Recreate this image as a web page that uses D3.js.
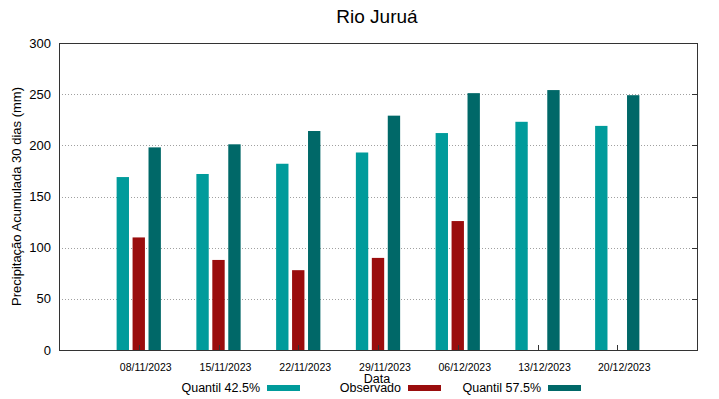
<!DOCTYPE html>
<html>
<head>
<meta charset="utf-8">
<script src="https://cdn.jsdelivr.net/npm/d3@7"></script>
<style>
  body { margin: 0; background: #fff; }
  svg { display: block; font-family: "Liberation Sans", Arial, sans-serif; }
</style>
</head>
<body>
<div id="chart"></div>
<script>
const dates = ["08/11/2023", "15/11/2023", "22/11/2023", "29/11/2023", "06/12/2023", "13/12/2023", "20/12/2023"];
const quantil425 = [169, 172, 182, 193, 212, 223, 219];
const observado = [110, 88, 78, 90, 126, null, null];
const quantil575 = [198, 201, 214, 229, 251, 254, 249];
const yTicks = [0, 50, 100, 150, 200, 250, 300];

const series = [
    { name: "Quantil 42.5%", values: quantil425, color: "#009b9b", offset: -0.2 },
    { name: "Observado", values: observado, color: "#9a0d0d", offset: 0 },
    { name: "Quantil 57.5%", values: quantil575, color: "#006868", offset: 0.2 }
];

const width = 719;
const height = 399;
const margin = { top: 43, right: 22, bottom: 49, left: 59 };

const svg = d3.select("#chart")
    .append("svg")
    .attr("width", width)
    .attr("height", height);

const x = d3.scaleLinear()
    .domain([-1, dates.length])
    .range([margin.left, width - margin.right]);

const y = d3.scaleLinear()
    .domain([0, 300])
    .range([height - margin.bottom, margin.top]);

const barW = x(0.155) - x(0);

// grid lines
svg.append("g")
    .selectAll("line")
    .data(yTicks.filter(d => d > 0 && d < 300))
    .enter()
    .append("line")
    .attr("x1", margin.left)
    .attr("x2", width - margin.right)
    .attr("y1", d => Math.round(y(d)) + 0.5)
    .attr("y2", d => Math.round(y(d)) + 0.5)
    .attr("stroke", "#a0a0a0")
    .attr("stroke-width", 1)
    .attr("stroke-dasharray", "1,2");

// bars
series.forEach(s => {
    svg.append("g")
        .selectAll("rect")
        .data(s.values.map((v, i) => ({ v, i })).filter(d => d.v != null))
        .enter()
        .append("rect")
        .attr("x", d => x(d.i + s.offset) - barW / 2)
        .attr("y", d => y(d.v))
        .attr("width", barW)
        .attr("height", d => y(0) - y(d.v))
        .attr("fill", s.color);
});

// x ticks (inward)
svg.append("g")
    .selectAll("line")
    .data(dates.map((d, i) => i))
    .enter()
    .append("line")
    .attr("x1", d => Math.round(x(d)) + 0.5)
    .attr("x2", d => Math.round(x(d)) + 0.5)
    .attr("y1", y(0))
    .attr("y2", y(0) - 5)
    .attr("stroke", "#333");

// right mirror ticks
svg.append("g")
    .selectAll("line")
    .data(yTicks.filter(d => d > 0 && d < 300))
    .enter()
    .append("line")
    .attr("x1", width - margin.right)
    .attr("x2", width - margin.right - 5)
    .attr("y1", d => Math.round(y(d)) + 0.5)
    .attr("y2", d => Math.round(y(d)) + 0.5)
    .attr("stroke", "#333");

// frame
svg.append("rect")
    .attr("x", margin.left + 0.5)
    .attr("y", margin.top + 0.5)
    .attr("width", width - margin.left - margin.right)
    .attr("height", height - margin.top - margin.bottom)
    .attr("fill", "none")
    .attr("stroke", "#333")
    .attr("stroke-width", 1);

// y tick labels
svg.append("g")
    .selectAll("text")
    .data(yTicks)
    .enter()
    .append("text")
    .attr("x", margin.left - 8)
    .attr("y", d => y(d) + 4.5)
    .attr("text-anchor", "end")
    .attr("font-size", "13px")
    .attr("fill", "#000")
    .text(d => d);

// x tick labels
svg.append("g")
    .selectAll("text")
    .data(dates)
    .enter()
    .append("text")
    .attr("x", (d, i) => x(i) + 7)
    .attr("y", y(0) + 21)
    .attr("text-anchor", "middle")
    .attr("font-size", "10.5px")
    .attr("fill", "#000")
    .text(d => d);

// title
svg.append("text")
    .attr("x", 377)
    .attr("y", 23)
    .attr("text-anchor", "middle")
    .attr("font-size", "19px")
    .text("Rio Juruá");

// axis labels
svg.append("text")
    .attr("transform", `translate(21, ${(margin.top + height - margin.bottom) / 2}) rotate(-90)`)
    .attr("text-anchor", "middle")
    .attr("font-size", "13px")
    .text("Precipitação Acumulada 30 dias (mm)");

svg.append("text")
    .attr("x", 377)
    .attr("y", 383)
    .attr("text-anchor", "middle")
    .attr("font-size", "12.5px")
    .text("Data");

// legend
const legendX = [260, 401, 541];
series.forEach((s, i) => {
    svg.append("text")
        .attr("x", legendX[i])
        .attr("y", 392)
        .attr("text-anchor", "end")
        .attr("font-size", "12.5px")
        .text(s.name);
    svg.append("rect")
        .attr("x", legendX[i] + 7)
        .attr("y", 385)
        .attr("width", 33)
        .attr("height", 6)
        .attr("fill", s.color);
});
</script>
</body>
</html>
